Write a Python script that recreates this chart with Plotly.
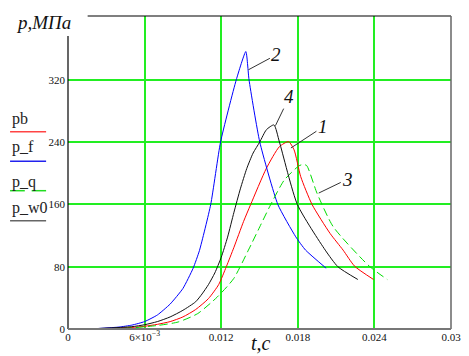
import plotly.graph_objects as go

# ---- data ----
t_pb = [0.0022, 0.005, 0.006, 0.007, 0.008, 0.009, 0.0100, 0.0110, 0.0118, 0.0124, 0.0130,
        0.01375, 0.01431, 0.01554, 0.01656, 0.01728, 0.01771, 0.01823, 0.01912, 0.02053,
        0.02155, 0.02245, 0.02393]
p_pb = [0.3, 2, 3.5, 6, 9.5, 15.5, 25, 39, 57, 80, 105,
        138, 160, 206.4, 234.2, 240.6, 230, 195.6, 159.8, 122.7,
        101.3, 80.7, 63.6]

t_f = [0.0022, 0.004, 0.005, 0.006, 0.007, 0.008, 0.009, 0.0098, 0.0103, 0.01118, 0.01195,
       0.01318, 0.01393, 0.01418, 0.01502, 0.01644, 0.01784, 0.01861, 0.02022]
p_f = [0.5, 2.5, 5, 9.5, 18, 32, 52, 78, 101, 160, 240.2,
       320, 356.4, 320, 240.2, 159.8, 118.4, 101.3, 78.1]

t_q = [0.0025, 0.005, 0.007, 0.00863, 0.01016, 0.0117, 0.01298, 0.01413, 0.01502, 0.01579,
       0.01694, 0.01807, 0.01838, 0.01869, 0.01951, 0.02078, 0.0236, 0.02501]
p_q = [0.2, 1.5, 4.5, 9, 19.8, 41.2, 64.8, 101.3, 131.2, 157,
       191.3, 209.3, 211.3, 210, 174.2, 131.2, 80.7, 63.6]

t_w0 = [0.0022, 0.005, 0.006, 0.007, 0.008, 0.009, 0.0100, 0.0105, 0.0110, 0.0115, 0.0120,
        0.0125, 0.0130, 0.0135, 0.0140, 0.0145, 0.01502, 0.01554, 0.01613, 0.01656, 0.01797,
        0.02015, 0.02114, 0.0227]
p_w0 = [0.5, 3, 5.5, 9.5, 15.5, 24, 35, 45, 57, 72, 92,
        118, 150, 180, 206, 226, 240.2, 255.9, 262.1, 240.2, 159.8,
        101.3, 80, 63.6]

x_tickvals = [0, 0.006, 0.012, 0.018, 0.024, 0.03]
x_ticktext = ["0", "6×10<sup>−3</sup>", "0.012", "0.018", "0.024", "0.03"]
y_tickvals = [0, 80, 160, 240, 320]
y_ticktext = ["0", "80", "160", "240", "320"]

legend_names = ["pb", "p_f", "p_q", "p_w0"]
curve_labels = ["1", "2", "3", "4"]

SERIF = "Liberation Serif, Times New Roman, serif"
GRID = "#22ee22"

fig = go.Figure()
fig.add_trace(go.Scatter(x=t_pb, y=p_pb, mode="lines", name="pb",
                         line=dict(color="#ff0000", width=1, shape="spline", smoothing=0.6)))
fig.add_trace(go.Scatter(x=t_f, y=p_f, mode="lines", name="p_f",
                         line=dict(color="#0000ff", width=1, shape="spline", smoothing=0.5)))
fig.add_trace(go.Scatter(x=t_q, y=p_q, mode="lines", name="p_q",
                         line=dict(color="#00dd00", width=1, dash="8px,4px",
                                   shape="spline", smoothing=0.6)))
fig.add_trace(go.Scatter(x=t_w0, y=p_w0, mode="lines", name="p_w0",
                         line=dict(color="#111111", width=1, shape="spline", smoothing=0.6)))

# The page body has an 8px margin: figure is placed at page (8, 8).
# Plot area in page pixels: x 68..458, y 16..329
def px_x(x):
    return (x - 68) / 390.0

def px_y(y):
    return (329 - y) / 313.0

shapes = []
# frame
shapes.append(dict(type="line", xref="paper", yref="paper", x0=0, x1=1, y0=1, y1=1,
                   line=dict(color="#000000", width=1.2), layer="above"))
shapes.append(dict(type="line", xref="paper", yref="paper", x0=0, x1=0, y0=0, y1=1,
                   line=dict(color="#000000", width=1.2), layer="above"))
shapes.append(dict(type="line", xref="paper", yref="paper", x0=1, x1=1, y0=0, y1=1,
                   line=dict(color="#666666", width=1.5), layer="above"))
shapes.append(dict(type="line", xref="paper", yref="paper", x0=0, x1=1, y0=0, y1=0,
                   line=dict(color="#777777", width=2), layer="above"))
# white patch behind the y-axis title
shapes.append(dict(type="rect", xref="paper", yref="paper",
                   x0=px_x(58), x1=px_x(88), y0=px_y(36), y1=px_y(8.5),
                   fillcolor="white", line=dict(width=0), layer="above"))

# legend (text with sample line underneath)
leg_colors = ["#ff4444", "#2222ee", "#22dd22", "#666666"]
leg_text_y = [119, 147, 182, 207.5]
leg_line_y = [131.7, 161.3, 190.7, 220.7]
annotations = []
for name, col, ty, ly in zip(legend_names, leg_colors, leg_text_y, leg_line_y):
    annotations.append(dict(text=name, xref="paper", yref="paper", x=px_x(9), y=px_y(ty),
                            xanchor="left", yanchor="middle", showarrow=False,
                            font=dict(family=SERIF, size=16, color="#222222")))
    if name == "p_q":
        for a, b in [(9, 24), (31, 45.7)]:
            shapes.append(dict(type="line", xref="paper", yref="paper",
                               x0=px_x(a), x1=px_x(b), y0=px_y(ly), y1=px_y(ly),
                               line=dict(color=col, width=1.5)))
    else:
        shapes.append(dict(type="line", xref="paper", yref="paper",
                           x0=px_x(9), x1=px_x(45.7), y0=px_y(ly), y1=px_y(ly),
                           line=dict(color=col, width=1.5)))

# axis titles
annotations.append(dict(text="<i>p,МПа</i>", xref="paper", yref="paper",
                        x=px_x(13), y=px_y(22), xanchor="left", yanchor="middle",
                        showarrow=False, font=dict(family=SERIF, size=19, color="#111111")))
annotations.append(dict(text="<i>t,c</i>", xref="paper", yref="paper",
                        x=px_x(265), y=px_y(343), xanchor="center", yanchor="middle",
                        showarrow=False, font=dict(family=SERIF, size=20, color="#111111")))

# curve number labels with leader lines
label_pts = {"2": (0.01413, 332.9, 28, -15),
             "4": (0.01625, 261.2, 14, -29),
             "1": (0.01746, 232.5, 32, -21),
             "3": (0.01964, 174.6, 29, -14)}
for lab in curve_labels:
    x, y, ax, ay = label_pts[lab]
    annotations.append(dict(text="<i>%s</i>" % lab, x=x, y=y, xref="x", yref="y",
                            ax=ax, ay=ay, showarrow=True, arrowhead=0, arrowwidth=1,
                            arrowcolor="#333333", standoff=0,
                            font=dict(family=SERIF, size=19, color="#111111")))

fig.update_layout(
    width=461, height=348,
    margin=dict(l=60, r=11, t=8, b=27),
    paper_bgcolor="white", plot_bgcolor="white",
    showlegend=False,
    shapes=shapes, annotations=annotations,
    xaxis=dict(range=[0, 0.03], tickvals=x_tickvals, ticktext=x_ticktext,
               showgrid=True, gridcolor=GRID, gridwidth=1.5, zeroline=False,
               showline=False, ticks="",
               tickfont=dict(family=SERIF, size=11, color="#111111")),
    yaxis=dict(range=[0, 402], tickvals=y_tickvals, ticktext=y_ticktext,
               showgrid=True, gridcolor=GRID, gridwidth=1.5, zeroline=False,
               showline=False, ticks="", ticklabelstandoff=2,
               tickfont=dict(family=SERIF, size=11, color="#111111")),
)

fig.write_html("out.html")
